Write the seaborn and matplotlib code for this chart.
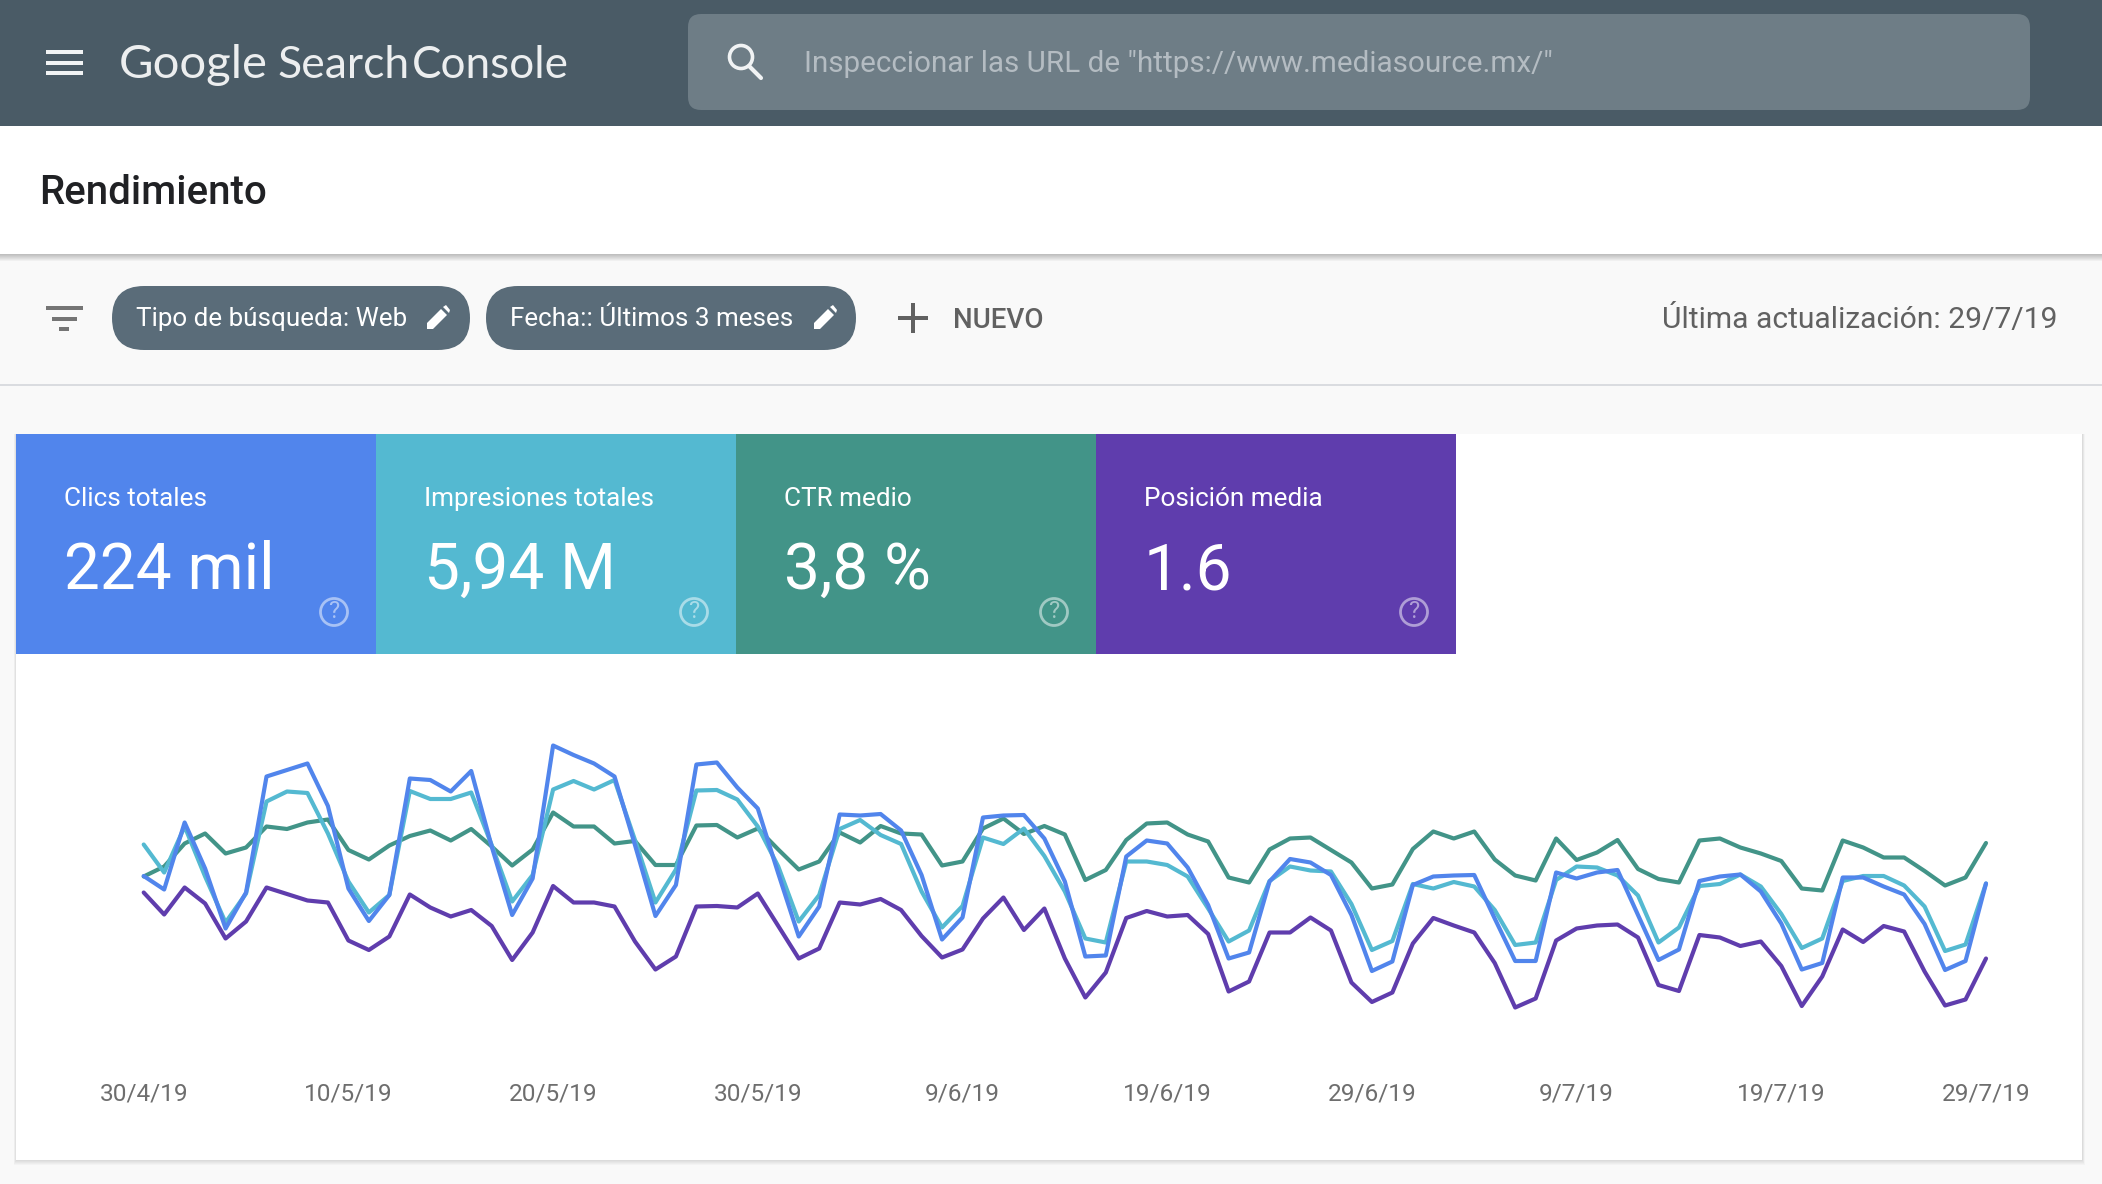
import pandas as pd
import matplotlib
matplotlib.use('Agg')
import matplotlib.pyplot as plt
import seaborn as sns
from matplotlib.patches import Rectangle, FancyBboxPatch, Circle, Polygon

# series values (arbitrary units, the chart has no y axis)
clics = [134, 120.5, 187.5, 141.5, 81.5, 117.5, 233.5, 240, 246.5, 204, 121.5, 89, 115, 231.5, 230, 218.5,
         239, 163.5, 95, 131.5, 264.5, 255, 246.5, 233.5, 165, 94, 125, 245.5, 247.5, 222.5, 201.5, 136.5,
         73.5, 103.5, 195.5, 194.5, 196, 179.5, 135, 70.5, 92.5, 192.5, 194.5, 195, 171.5, 128.5, 53.5, 54.5,
         153.5, 169.5, 166.5, 142.5, 105, 51.5, 57.5, 128.5, 151, 147.5, 135, 95, 39, 48.5, 125, 133.5,
         134.5, 135, 91.5, 49, 49, 137.5, 131.5, 137.5, 140, 95, 50, 60.5, 129, 133.5, 135.5, 118.5,
         86.5, 40.5, 47, 132.5, 132.5, 123.5, 115.5, 86, 40, 49, 126.5]
impresiones = [165.5, 137.5, 183.5, 133.5, 87.5, 116.5, 208.5, 218.5, 217, 176.5, 128.5, 97.5, 115, 219, 211, 211,
               217.5, 165, 108.5, 135, 220.5, 229, 220.5, 230, 170, 107.5, 140.5, 219.5, 220, 210.5, 183.5, 143.5,
               88.5, 115, 181, 190, 175, 166, 118.5, 82.5, 104, 172.5, 166, 181.5, 154, 118.5, 71.5, 67.5,
               148.5, 148.5, 145, 133.5, 101.5, 68.5, 79.5, 129, 143.5, 139.5, 138.5, 106, 60, 69, 126, 121.5,
               128, 123.5, 100, 65, 67.5, 130, 143.5, 142.5, 134.5, 114.5, 67.5, 82.5, 124, 126, 135.5, 123.5,
               96, 62, 71.5, 129, 134, 134, 124.5, 103.5, 59, 65.5, 126.5]
ctr = [133.5, 143.5, 166.5, 176.5, 156.5, 162.5, 183.5, 181, 187.5, 190.5, 160, 150.5, 164.5, 174, 179.5, 169.5,
       181, 163.5, 144.5, 160.5, 197.5, 183.5, 183.5, 166.5, 169, 145, 145, 184.5, 185, 172.5, 181.5, 160.5,
       140.5, 148.5, 177.5, 167.5, 184, 176.5, 175.5, 144.5, 148.5, 181.5, 191.5, 176, 184, 175.5, 130, 140,
       170, 186.5, 187.5, 175.5, 168.5, 132.5, 127.5, 160.5, 171.5, 172.5, 160, 147.5, 121.5, 125.5, 161, 178.5,
       171.5, 178.5, 150.5, 134.5, 129.5, 171.5, 150, 157.5, 170, 141, 131, 127.5, 169.5, 171.5, 162.5, 156.5,
       149, 121.5, 119.5, 169.5, 162.5, 152.5, 152.5, 139, 124.5, 132.5, 167]
posicion = [117.5, 95.5, 122.5, 106.5, 71.5, 88.5, 122.5, 116, 109.5, 107.5, 69.5, 60, 73.5, 115.5, 102.5, 93.5,
            100, 84, 50, 77.5, 124, 107.5, 107.5, 103.5, 68.5, 40.5, 53.5, 103.5, 104, 102.5, 116.5, 84,
            51.5, 61.5, 107.5, 105.5, 111, 100, 74, 52.5, 60.5, 91.5, 112.5, 80, 101.5, 51.5, 12.5, 37.5,
            92, 99, 93.5, 95, 76, 18.5, 28.5, 77.5, 77.5, 92.5, 79.5, 27.5, 8, 17.5, 66.5, 92,
            84.5, 77.5, 47, 2.5, 11.5, 69.5, 81.5, 84.5, 85.5, 72.5, 25, 19, 75, 72.5, 64, 68.5,
            44, 4, 33.5, 80.5, 68, 84, 78.5, 38.5, 4.5, 10.5, 51.5]

tick_labels = ['30/4/19', '10/5/19', '20/5/19', '30/5/19', '9/6/19', '19/6/19', '29/6/19', '9/7/19', '19/7/19', '29/7/19']
tile_titles = ['Clics totales', 'Impresiones totales', 'CTR medio', 'Posición media']
tile_values = ['224 mil', '5,94 M', '3,8 %', '1.6']
series_names = ['Posición media', 'CTR medio', 'Impresiones totales', 'Clics totales']  # draw order

BLUE = '#5185EC'
TEAL = '#54B9D1'
GREEN = '#429488'
PURPLE = '#5F3DAD'
HEADER = '#4A5B66'
SEARCH = '#6E7D86'
CHIP = '#5A6C79'
PAGE = '#F9F9F9'

W, H = 2102, 1184

sns.set_theme(style='white')
plt.rcParams['font.family'] = ['Roboto', 'DejaVu Sans']

fig = plt.figure(figsize=(W / 100, H / 100), dpi=100, facecolor=PAGE)

# overlay in pixel coordinates for the page around the chart
ui = fig.add_axes([0, 0, 1, 1])
ui.set_xlim(0, W)
ui.set_ylim(H, 0)
ui.axis('off')


def rect(x0, y0, x1, y1, color, alpha=1.0, z=1):
    ui.add_patch(Rectangle((x0, y0), x1 - x0, y1 - y0, facecolor=color, edgecolor='none', alpha=alpha, zorder=z))


def rounded(x0, y0, x1, y1, r, color, z=2):
    ui.add_patch(FancyBboxPatch((x0 + r, y0 + r), x1 - x0 - 2 * r, y1 - y0 - 2 * r,
                                boxstyle=f'round,pad={r},rounding_size={r}',
                                facecolor=color, edgecolor='none', zorder=z))


def shadow(x0, y0, x1, y1, side=1.0, alpha=0.03, steps=5, z=1):
    # soft shadow, mostly under the box
    for i in range(steps, 0, -1):
        rect(x0 - i * side, y0, x1 + i * side, y1 + i, '#000000', alpha=alpha, z=z)


def label(x, y, s, size, color='white', ha='left', weight='normal', z=5, **kw):
    ui.text(x, y + 3, s, fontsize=size, color=color, ha=ha, va='center', fontweight=weight, zorder=z, **kw)


def pencil(x, y, color='white'):
    ui.add_patch(Polygon([(x - 11, y + 11), (x - 11, y + 5), (x + 3, y - 9), (x + 9, y - 3), (x - 5, y + 11)],
                         facecolor=color, edgecolor='none', zorder=5))
    ui.add_patch(Polygon([(x + 5, y - 11), (x + 8, y - 13), (x + 12, y - 8), (x + 11, y - 5)],
                         facecolor=color, edgecolor='none', zorder=5))


# header bar
rect(0, 0, W, 126, HEADER)
for y in (50, 60.5, 71):
    rect(46, y, 83, y + 4, '#F1F3F4', z=3)
label(119, 62, 'Google', 34, color='#ECEEEF', family='Lato')
label(277, 62, 'Search', 32, color='#ECEEEF', family='Lato')
label(412, 62, 'Console', 31.7, color='#ECEEEF', family='Lato')
rounded(688, 14, 2030, 110, 13, SEARCH)
ui.add_patch(Circle((741, 57), 11.5, facecolor='none', edgecolor='#F1F3F4', linewidth=2.6, zorder=4))
ui.plot([749, 761], [66, 78], color='#F1F3F4', linewidth=3, solid_capstyle='round', zorder=4)
label(804, 61, 'Inspeccionar las URL de "https://www.mediasource.mx/"', 21.3, color='#B4BCC2')

# title band
shadow(0, 126, W, 254, side=0, alpha=0.035, steps=7)
rect(0, 126, W, 254, 'white', z=2)
label(39, 190, 'Rendimiento', 29, color='#202124', weight='medium')

# filter band
rect(46, 306, 83, 310, '#757575', z=3)
rect(52, 317, 77, 321, '#757575', z=3)
rect(59, 327, 69, 331, '#757575', z=3)
rounded(112, 286, 470, 350, 32, CHIP)
label(136, 316, 'Tipo de búsqueda: Web', 18.7)
pencil(438, 318)
rounded(486, 286, 856, 350, 32, CHIP)
label(510, 316, 'Fecha:: Últimos 3 meses', 18.75)
pencil(825, 318)
rect(898, 316, 928, 320, '#616161', z=3)
rect(911, 303, 915, 333, '#616161', z=3)
label(953, 318, 'NUEVO', 20, color='#616161', weight='medium')
label(2058, 316, 'Última actualización: 29/7/19', 21.6, color='#616161', ha='right')
rect(0, 384, W, 386, '#DADCE0')

# card and metric tiles
shadow(16, 434, 2082, 1160, side=0.5, alpha=0.025, steps=5)
rect(16, 434, 2082, 1160, 'white', z=2)
tile_edges = [16, 376, 736, 1096, 1456]
tile_colors = [BLUE, TEAL, GREEN, PURPLE]
for i in range(4):
    x0, x1 = tile_edges[i], tile_edges[i + 1]
    rect(x0, 434, x1, 654, tile_colors[i], z=3)
    label(x0 + 48, 496, tile_titles[i], 18.8)
    label(x0 + 48, 568, tile_values[i], 46)
    ui.add_patch(Circle((x1 - 42, 612), 13.5, facecolor='none', edgecolor='white', alpha=0.5, linewidth=2, zorder=5))
    label(x1 - 42, 609, '?', 17, ha='center', alpha=0.5)

# the chart itself
fechas = pd.date_range('2019-04-30', periods=len(clics), freq='D')
df = pd.DataFrame({'fecha': fechas, 'Clics totales': clics, 'Impresiones totales': impresiones,
                   'CTR medio': ctr, 'Posición media': posicion})
long_df = df.melt(id_vars='fecha', var_name='serie', value_name='valor')

left, right, top, bottom = 143.7, 1986, 730, 1010
ax = fig.add_axes([left / W, 1 - bottom / H, (right - left) / W, (bottom - top) / H])
ax.patch.set_alpha(0)
sns.lineplot(data=long_df, x='fecha', y='valor', hue='serie', hue_order=series_names,
             palette=dict(zip(['Clics totales', 'Impresiones totales', 'CTR medio', 'Posición media'], tile_colors)),
             linewidth=3.0, errorbar=None, legend=False, clip_on=False, ax=ax)
ax.set_xlim(fechas[0], fechas[-1])
ax.set_ylim(0, 280)
ax.set_yticks([])
ax.set_xticks(fechas[::10])
ax.set_xticklabels(tick_labels)
ax.tick_params(axis='x', length=0, pad=52, labelsize=17.6, labelcolor='#6E6E6E')
ax.set_xlabel('')
ax.set_ylabel('')
sns.despine(ax=ax, left=True, bottom=True)

fig.savefig('out.png', dpi=100, facecolor=PAGE)
